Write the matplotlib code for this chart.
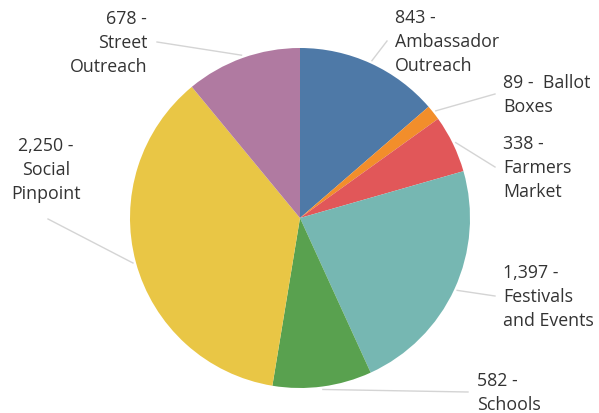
import numpy as np
import matplotlib.pyplot as plt

plt.rcParams['font.family'] = ['Open Sans', 'DejaVu Sans']

categories = ["Ambassador\nOutreach", "Ballot\nBoxes", "Farmers\nMarket",
              "Festivals\nand Events", "Schools", "Social\nPinpoint",
              "Street\nOutreach"]
values = [843, 89, 338, 1397, 582, 2250, 678]
colors = ["#4e79a7", "#f28e2b", "#e15759", "#76b7b2", "#59a14f", "#e9c645", "#b07aa1"]

W, H = 599, 414
cx, cy, R = 300, H - 219, 170

fig = plt.figure(figsize=(W / 100, H / 100), dpi=100)
ax = fig.add_axes([0, 0, 1, 1])

ax.pie(values, colors=colors, startangle=90, counterclock=False,
       center=(cx, cy), radius=R, frame=True,
       wedgeprops=dict(linewidth=0))
ax.set_xlim(0, W)
ax.set_ylim(0, H)
ax.set_axis_off()

# label anchor (text x, text center y in pixels from top), alignment, line end
layout = [
    (395, 42, "left", (387, 42)),
    (503, 95, "left", (495, 95)),
    (503, 168, "left", (495, 168)),
    (503, 297, "left", (495, 297)),
    (477, 393, "left", (468, 393)),
    (46, 170, "center", (48, 220)),
    (147, 43, "right", (157, 43)),
]

total = sum(values)
cum = 0
for v, name, (tx, ty, ha, (ex, ey)) in zip(values, categories, layout):
    mid = (cum + v / 2) / total * 2 * np.pi
    cum += v
    sx = cx + (R + 3) * np.sin(mid)
    sy = cy + (R + 3) * np.cos(mid)
    ax.plot([sx, ex], [sy, H - ey], color="#d4d4d4", lw=1, zorder=0)
    if name.startswith("Ballot"):
        txt = f"{v:,} -  " + name
    else:
        txt = f"{v:,} -\n" + name
    ax.text(tx, H - ty, txt, ha=ha, va="center", fontsize=12.8,
            color="#333333", linespacing=1.4, multialignment=ha)

fig.savefig("out.png", dpi=100)
